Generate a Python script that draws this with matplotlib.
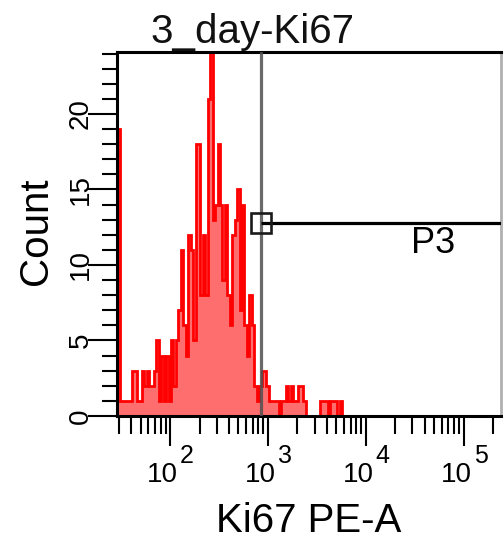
import numpy as np
import matplotlib
matplotlib.use('Agg')
import matplotlib.pyplot as plt
from matplotlib.transforms import offset_copy
from matplotlib.ticker import LogLocator, MultipleLocator, FixedLocator, NullFormatter

plt.rcParams['font.family'] = ['Liberation Sans', 'DejaVu Sans']

# ---------------- data ----------------
title = '3_day-Ki67'
x_label = 'Ki67 PE-A'
y_label = 'Count'
gate_name = 'P3'

bin_start_log = 1.46      # log10 of first bin edge
bin_width_log = 0.025     # bin width in decades
counts = [19, 1, 1, 1, 1, 1, 3, 3, 1, 1,
          3, 2, 3, 2, 2, 3, 5, 1, 4, 1,
          4, 1, 5, 2, 5, 7, 11, 6, 4, 12,
          11, 5, 18, 18, 8, 12, 8, 21, 25, 13,
          14, 18, 14, 9, 14, 8, 6, 12, 13, 15,
          7, 14, 6, 4, 8, 6, 2, 1, 2, 3,
          3, 2, 1, 1, 1, 1, 0, 1, 1, 2,
          1, 2, 1, 1, 2, 2, 1, 0, 0, 0,
          0, 0, 0, 1, 1, 1, 0, 1, 1, 1,
          0, 1, 0]

gate_low = 850.0
gate_level = 12.8
gate_label_x = 29300.0
gate_label_y = 10.8

x_range = (10 ** 1.4575, 10 ** 5.383)
y_range = (0, 24.1)
x_major = [1e2, 1e3, 1e4, 1e5]
x_exponents = ['2', '3', '4', '5']
y_major = [0, 5, 10, 15, 20]

# ---------------- figure ----------------
W, H = 504, 539
fig = plt.figure(figsize=(W / 100, H / 100), dpi=100)
ax_l, ax_r, ax_t, ax_b = 117, 501, 52, 416
ax = fig.add_axes([ax_l / W, 1 - ax_b / H, (ax_r - ax_l) / W, (ax_b - ax_t) / H])

edges = 10 ** (bin_start_log + bin_width_log * np.arange(len(counts) + 1))
ax.stairs(counts, edges, fill=True, color='#ff6e6e', lw=0, zorder=1)
ax.stairs(counts, edges, color='#ff0000', lw=2.0, zorder=1.5)

ax.set_xscale('log')
ax.set_xlim(*x_range)
ax.set_ylim(*y_range)

# gate
ax.axvline(gate_low, color='#505050', lw=2.3, alpha=0.85, zorder=3)
ax.plot([gate_low, x_range[1] * 2], [gate_level, gate_level], color='black',
        lw=2.3, zorder=3, solid_capstyle='butt')
ax.plot([gate_low], [gate_level], marker='s', ms=14.5, mfc='none', mec='#1a1a1a',
        mew=1.9, zorder=4)
ax.text(gate_label_x, gate_label_y, gate_name, fontsize=26, ha='left', va='baseline',
        color='black', zorder=5)

# spines
for s in ['left', 'top', 'bottom']:
    ax.spines[s].set_linewidth(2.2)
    ax.spines[s].set_color('black')
ax.spines['right'].set_linewidth(2.0)
ax.spines['right'].set_color('#b0b0b0')

# ticks
ax.xaxis.set_major_locator(FixedLocator(x_major))
ax.xaxis.set_minor_locator(LogLocator(base=10, subs=np.arange(2, 10), numticks=20))
ax.xaxis.set_minor_formatter(NullFormatter())
ax.yaxis.set_major_locator(FixedLocator(y_major))
ax.yaxis.set_minor_locator(MultipleLocator(1))
ax.tick_params(axis='x', which='major', direction='out', length=21.6, width=1.5, color='black')
ax.tick_params(axis='x', which='minor', direction='out', length=13, width=1.5, color='black')
ax.tick_params(axis='y', which='major', direction='out', length=21, width=1.5, color='black')
ax.tick_params(axis='y', which='minor', direction='out', length=10.8, width=1.5, color='black')
ax.tick_params(labelbottom=False, labelleft=False)

# x tick labels as 10 + superscript
xt = ax.get_xaxis_transform()
t_base = offset_copy(xt, fig=fig, x=8, y=0, units='dots')
t_sup = offset_copy(xt, fig=fig, x=10, y=0, units='dots')
for v, e in zip(x_major, x_exponents):
    ax.text(v, (ax_b - 482) / (ax_b - ax_t), '10', transform=t_base, fontsize=20,
            ha='right', va='baseline', clip_on=False)
    ax.text(v, (ax_b - 463) / (ax_b - ax_t), e, transform=t_sup, fontsize=18,
            ha='left', va='baseline', clip_on=False)

# y tick labels rotated
yt = ax.get_yaxis_transform()
for v in y_major:
    ax.text((88 - ax_l) / (ax_r - ax_l), v, str(v), transform=yt, fontsize=20,
            rotation=90, rotation_mode='anchor', ha='center', va='baseline', clip_on=False)

# titles / labels
fig.text(0.5, 1 - 43.3 / H, title, fontsize=29, ha='center', va='baseline', color='#111111')
fig.text((ax_l + ax_r) / 2 / W, 1 - 531.7 / H, x_label, fontsize=29, ha='center', va='baseline')
fig.text(47 / W, 1 - 231 / H, y_label, fontsize=29, rotation=90, rotation_mode='anchor',
         ha='center', va='baseline')

fig.savefig('out.png', dpi=100)
